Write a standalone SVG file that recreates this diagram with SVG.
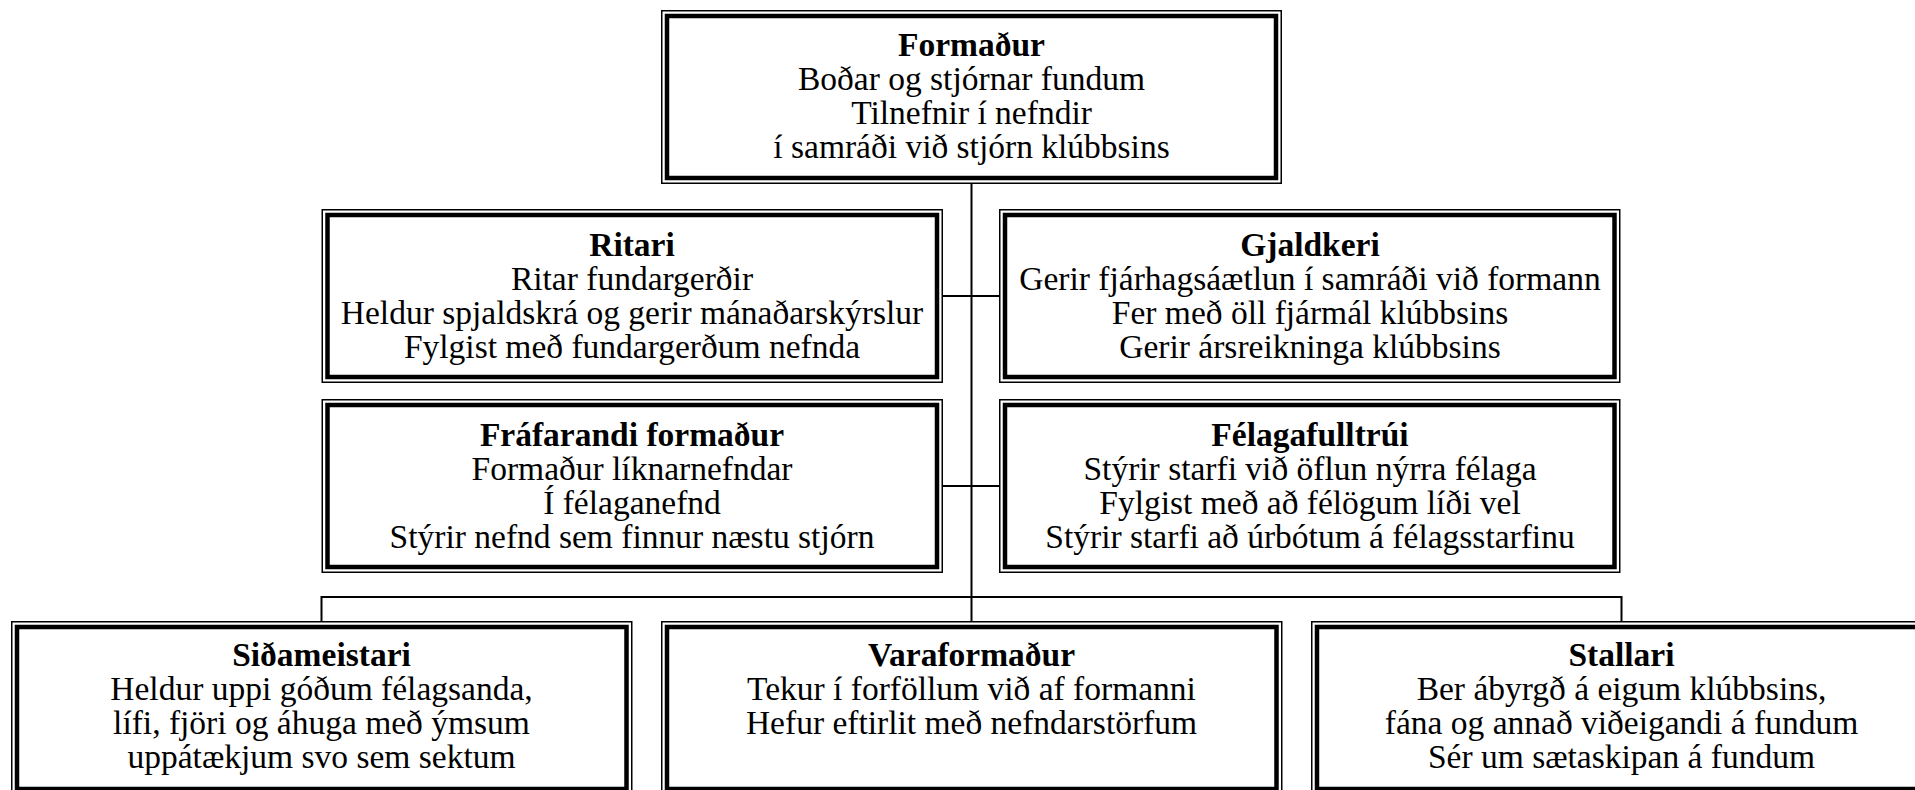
<svg xmlns="http://www.w3.org/2000/svg" width="1915" height="790" viewBox="0 0 1915 790">
<style>
.o{fill:#fff;stroke:#000;stroke-width:1.5}
.i{fill:none;stroke:#000;stroke-width:4.5}
.c{fill:none;stroke:#000;stroke-width:2}
text{font-family:"Liberation Serif","Times New Roman",serif;font-size:33.5px;fill:#000;text-anchor:middle}
.t{font-weight:bold}
</style>
<rect width="1915" height="790" fill="#fff"/>
<g id="connectors">
<path class="c" d="M971.5 184V621M943 296H999M943 486H999M321.5 621V597H1621.5V621"/>
</g>
<g id="formadur">
<rect class="o" x="661.75" y="10.75" width="619.5" height="172.5"/>
<rect class="i" x="667" y="16" width="609" height="162"/>
<text class="t" x="971.5" y="56">Formaður</text>
<text x="971.5" y="90">Boðar og stjórnar fundum</text>
<text x="971.5" y="124">Tilnefnir í nefndir</text>
<text x="971.5" y="158">í samráði við stjórn klúbbsins</text>
</g>
<g id="ritari">
<rect class="o" x="322.25" y="209.75" width="620" height="172.5"/>
<rect class="i" x="327.5" y="215" width="609.5" height="162"/>
<text class="t" x="632" y="256">Ritari</text>
<text x="632" y="290">Ritar fundargerðir</text>
<text x="632" y="324">Heldur spjaldskrá og gerir mánaðarskýrslur</text>
<text x="632" y="358">Fylgist með fundargerðum nefnda</text>
</g>
<g id="gjaldkeri">
<rect class="o" x="999.75" y="209.75" width="620" height="172.5"/>
<rect class="i" x="1005" y="215" width="609.5" height="162"/>
<text class="t" x="1310" y="256">Gjaldkeri</text>
<text x="1310" y="290">Gerir fjárhagsáætlun í samráði við formann</text>
<text x="1310" y="324">Fer með öll fjármál klúbbsins</text>
<text x="1310" y="358">Gerir ársreikninga klúbbsins</text>
</g>
<g id="frafarandi">
<rect class="o" x="322.25" y="399.75" width="620" height="172.5"/>
<rect class="i" x="327.5" y="405" width="609.5" height="162"/>
<text class="t" x="632" y="446">Fráfarandi formaður</text>
<text x="632" y="480">Formaður líknarnefndar</text>
<text x="632" y="514">Í félaganefnd</text>
<text x="632" y="548">Stýrir nefnd sem finnur næstu stjórn</text>
</g>
<g id="felagafulltrui">
<rect class="o" x="999.75" y="399.75" width="620" height="172.5"/>
<rect class="i" x="1005" y="405" width="609.5" height="162"/>
<text class="t" x="1310" y="446">Félagafulltrúi</text>
<text x="1310" y="480">Stýrir starfi við öflun nýrra félaga</text>
<text x="1310" y="514">Fylgist með að félögum líði vel</text>
<text x="1310" y="548">Stýrir starfi að úrbótum á félagsstarfinu</text>
</g>
<g id="sidameistari">
<rect class="o" x="11.75" y="621.75" width="620" height="172.5"/>
<rect class="i" x="17" y="627" width="609.5" height="162"/>
<text class="t" x="321.5" y="666">Siðameistari</text>
<text x="321.5" y="700">Heldur uppi góðum félagsanda,</text>
<text x="321.5" y="734">lífi, fjöri og áhuga með ýmsum</text>
<text x="321.5" y="768">uppátækjum svo sem sektum</text>
</g>
<g id="varaformadur">
<rect class="o" x="661.75" y="621.75" width="620" height="172.5"/>
<rect class="i" x="667" y="627" width="609.5" height="162"/>
<text class="t" x="971.5" y="666">Varaformaður</text>
<text x="971.5" y="700">Tekur í forföllum við af formanni</text>
<text x="971.5" y="734">Hefur eftirlit með nefndarstörfum</text>
</g>
<g id="stallari">
<rect class="o" x="1311.75" y="621.75" width="620" height="172.5"/>
<rect class="i" x="1317" y="627" width="609.5" height="162"/>
<text class="t" x="1621.5" y="666">Stallari</text>
<text x="1621.5" y="700">Ber ábyrgð á eigum klúbbsins,</text>
<text x="1621.5" y="734">fána og annað viðeigandi á fundum</text>
<text x="1621.5" y="768">Sér um sætaskipan á fundum</text>
</g>
</svg>
